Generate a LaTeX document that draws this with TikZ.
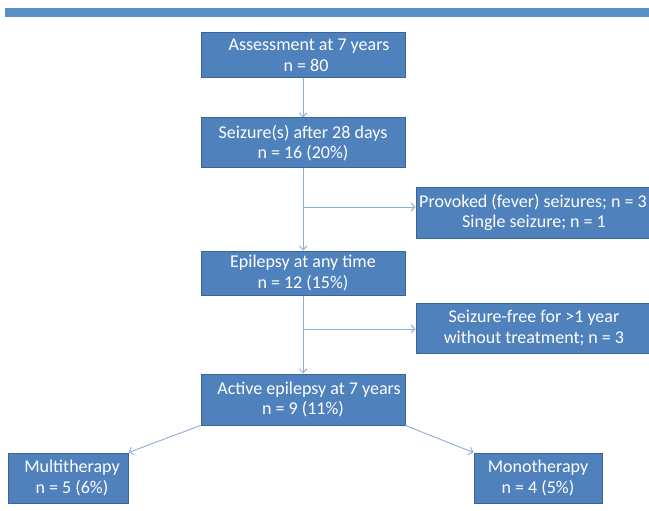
\documentclass[tikz,border=0pt]{standalone}
\usepackage{fontspec}
\setmainfont{Carlito}
\usetikzlibrary{arrows.meta,calc}
\definecolor{boxfill}{HTML}{4F81BD}
\definecolor{boxline}{HTML}{3A6595}
\definecolor{barcol}{HTML}{5A8FC6}
\definecolor{linecol}{HTML}{8EAEDA}
\tikzset{
  fbox/.style={draw=boxline, line width=1pt, fill=boxfill, text=white, align=center,
    inner sep=0pt, font=\fontsize{18}{20.5}\selectfont},
  conn/.style={draw=linecol, line width=0.9pt, -{Straight Barb[length=4pt,width=8pt]}},
  plain/.style={draw=linecol, line width=0.9pt}
}
\begin{document}
\begin{tikzpicture}[x=1pt,y=-1pt]
\useasboundingbox (0,0) rectangle (649,511);
\fill[barcol] (5,8) rectangle (649,17);
\node[fbox, minimum width=204pt, minimum height=45pt] (a) at (303,55.5) {\hspace*{12pt}Assessment at 7 years\\ \hspace*{6pt}n = 80};
\node[fbox, minimum width=204pt, minimum height=50pt] (b) at (303,143) {Seizure(s) after 28 days\\n = 16 (20\%)};
\node[fbox, minimum width=236pt, minimum height=51pt] (c) at (534,212.5) {\hspace*{-2pt}Provoked (fever) seizures; n = 3\\Single seizure; n = 1};
\node[fbox, minimum width=204pt, minimum height=44pt] (d) at (303,273) {Epilepsy at any time\\n = 12 (15\%)};
\node[fbox, minimum width=236pt, minimum height=50pt] (e) at (534,328) {Seizure-free for >1 year\\without treatment; n = 3};
\node[fbox, minimum width=204pt, minimum height=51pt] (f) at (303,399.5) {\hspace*{12pt}Active epilepsy at 7 years\\n = 9 (11\%)};
\node[fbox, minimum width=120pt, minimum height=50pt] (g) at (68,478) {\hspace*{8pt}Multitherapy\\ \hspace*{8pt}n = 5 (6\%)};
\node[fbox, minimum width=128pt, minimum height=50pt] (h) at (538,478) {Monotherapy\\n = 4 (5\%)};
\coordinate (br1) at (303,207);
\coordinate (br2) at (303,329);
\draw[conn] (a.south) -- (b.north);
\draw[conn] (b.south) -- (d.north);
\draw[conn] (br1) -- (br1 -| c.west);
\draw[conn] (d.south) -- (f.north);
\draw[conn] (br2) -- (br2 -| e.west);
\draw[conn] (f.south west) -- (g.north east);
\draw[conn] (f.south east) -- (h.north west);
\end{tikzpicture}
\end{document}
